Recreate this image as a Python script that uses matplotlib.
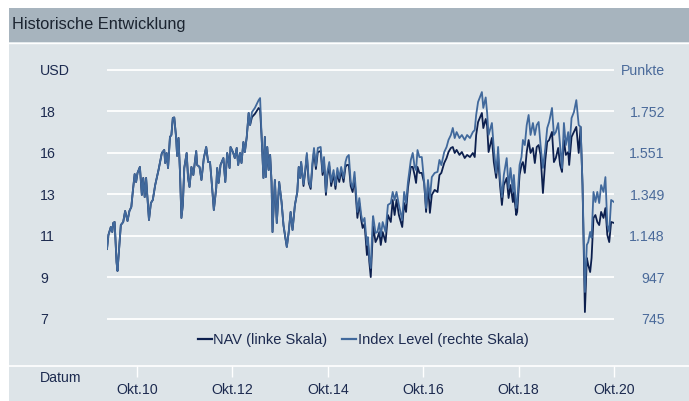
import matplotlib
matplotlib.use('Agg')
import matplotlib.pyplot as plt
from matplotlib.patches import Rectangle
from matplotlib.lines import Line2D

plt.rcParams['font.family'] = ['Liberation Sans', 'DejaVu Sans']

# decimal years of the weekly-ish samples
years = [
    2010.12, 2010.15, 2010.20, 2010.23, 2010.25, 2010.28, 2010.32, 2010.34, 2010.38, 2010.41,
    2010.46, 2010.50, 2010.55, 2010.59, 2010.63, 2010.66, 2010.70, 2010.73, 2010.76, 2010.81,
    2010.85, 2010.88, 2010.91, 2010.94, 2011.00, 2011.04, 2011.08, 2011.13, 2011.20, 2011.27,
    2011.32, 2011.34, 2011.37, 2011.40, 2011.44, 2011.47, 2011.50, 2011.53, 2011.57, 2011.59,
    2011.62, 2011.65, 2011.68, 2011.71, 2011.74, 2011.79, 2011.82, 2011.85, 2011.89, 2011.93,
    2011.99, 2012.01, 2012.06, 2012.10, 2012.15, 2012.20, 2012.24, 2012.28, 2012.32, 2012.36,
    2012.41, 2012.43, 2012.46, 2012.50, 2012.56, 2012.60, 2012.64, 2012.69, 2012.71, 2012.76,
    2012.80, 2012.84, 2012.87, 2012.91, 2012.94, 2012.98, 2013.01, 2013.05, 2013.09, 2013.12,
    2013.16, 2013.22, 2013.30, 2013.33, 2013.36, 2013.40, 2013.43, 2013.45, 2013.48, 2013.51,
    2013.54, 2013.57, 2013.59, 2013.64, 2013.68, 2013.73, 2013.78, 2013.82, 2013.86, 2013.89,
    2013.93, 2013.97, 2014.01, 2014.06, 2014.11, 2014.14, 2014.17, 2014.19, 2014.24, 2014.28,
    2014.31, 2014.35, 2014.39, 2014.43, 2014.46, 2014.50, 2014.54, 2014.60, 2014.64, 2014.67,
    2014.71, 2014.74, 2014.78, 2014.82, 2014.87, 2014.91, 2014.95, 2014.99, 2015.03, 2015.08,
    2015.12, 2015.15, 2015.19, 2015.23, 2015.27, 2015.31, 2015.37, 2015.41, 2015.45, 2015.48,
    2015.52, 2015.57, 2015.59, 2015.62, 2015.65, 2015.69, 2015.70, 2015.75, 2015.79, 2015.83,
    2015.86, 2015.90, 2015.96, 2016.01, 2016.07, 2016.11, 2016.15, 2016.19, 2016.24, 2016.31,
    2016.35, 2016.39, 2016.43, 2016.49, 2016.53, 2016.57, 2016.60, 2016.63, 2016.67, 2016.72,
    2016.77, 2016.81, 2016.85, 2016.89, 2016.93, 2016.99, 2017.05, 2017.09, 2017.13, 2017.19,
    2017.24, 2017.28, 2017.33, 2017.37, 2017.41, 2017.45, 2017.51, 2017.56, 2017.62, 2017.67,
    2017.73, 2017.79, 2017.83, 2017.86, 2017.90, 2017.98, 2018.01, 2018.06, 2018.09, 2018.12,
    2018.19, 2018.23, 2018.28, 2018.32, 2018.36, 2018.40, 2018.44, 2018.50, 2018.54, 2018.58,
    2018.63, 2018.65, 2018.70, 2018.72, 2018.77, 2018.81, 2018.84, 2018.88, 2018.92, 2018.96,
    2019.00, 2019.05, 2019.09, 2019.13, 2019.17, 2019.21, 2019.26, 2019.31, 2019.35, 2019.39,
    2019.45, 2019.49, 2019.53, 2019.58, 2019.62, 2019.66, 2019.70, 2019.74, 2019.79, 2019.81,
    2019.86, 2019.91, 2019.96, 2020.01, 2020.05, 2020.09, 2020.14, 2020.18, 2020.21, 2020.25,
    2020.28, 2020.32, 2020.36, 2020.40, 2020.44, 2020.48, 2020.53, 2020.57, 2020.61, 2020.65,
    2020.69, 2020.75,
]

# NAV in USD (left scale)
nav = [
    10.62, 11.35, 11.76, 11.50, 11.97, 12.02, 9.95, 9.48, 10.83, 11.86,
    12.02, 12.59, 12.07, 12.59, 12.80, 13.57, 14.50, 14.09, 14.56, 14.87,
    13.42, 14.30, 13.31, 14.30, 12.12, 13.00, 13.16, 13.93, 14.71, 15.59,
    15.75, 15.07, 15.59, 14.81, 16.42, 16.52, 17.40, 17.43, 16.37, 15.44,
    16.37, 14.61, 12.23, 12.90, 14.81, 15.59, 14.30, 13.83, 14.87, 14.45,
    15.69, 14.97, 14.87, 14.19, 15.33, 15.90, 15.12, 15.12, 13.93, 12.64,
    13.78, 14.81, 14.04, 14.97, 15.33, 14.09, 15.59, 14.81, 15.90, 15.64,
    15.33, 15.85, 14.97, 15.59, 15.07, 16.16, 15.64, 16.42, 17.66, 17.04,
    17.45, 17.61, 17.92, 17.82, 16.52, 14.30, 16.42, 14.35, 15.90, 14.71,
    15.49, 14.09, 11.50, 14.19, 11.97, 14.09, 13.05, 11.86, 11.19, 10.73,
    11.50, 12.54, 11.61, 12.90, 13.57, 14.87, 14.30, 15.12, 13.88, 14.71,
    15.49, 14.04, 13.73, 15.02, 15.64, 14.76, 15.64, 15.69, 14.45, 15.18,
    13.42, 14.40, 14.92, 13.88, 14.50, 13.73, 14.56, 14.09, 14.66, 14.09,
    14.87, 14.97, 14.97, 13.88, 13.57, 14.30, 12.23, 13.00, 12.12, 11.71,
    11.92, 10.31, 11.09, 9.95, 9.17, 11.35, 11.81, 10.98, 11.19, 11.50,
    10.83, 11.50, 10.98, 12.38, 12.02, 13.16, 12.38, 13.16, 12.38, 11.76,
    13.00, 12.54, 13.78, 14.87, 14.87, 14.45, 14.04, 14.87, 14.56, 14.56,
    14.04, 12.54, 13.93, 12.49, 13.42, 13.68, 13.57, 14.45, 14.56, 15.07,
    15.33, 15.64, 15.85, 15.90, 15.59, 15.75, 15.49, 15.64, 15.33, 15.49,
    15.38, 15.59, 15.38, 16.52, 17.19, 17.66, 16.88, 17.35, 16.99, 15.64,
    16.37, 15.12, 14.30, 15.38, 13.93, 12.90, 13.93, 14.30, 13.26, 13.93,
    13.05, 13.57, 12.38, 12.54, 14.45, 14.97, 15.12, 14.56, 15.64, 16.26,
    15.59, 15.85, 15.07, 15.90, 16.00, 15.49, 13.52, 15.23, 16.16, 16.26,
    16.68, 15.12, 15.33, 15.85, 14.97, 14.61, 16.26, 15.49, 15.64, 14.97,
    16.42, 16.68, 16.94, 15.59, 16.94, 13.93, 7.36, 10.16, 9.79, 9.43,
    10.16, 12.23, 12.38, 12.02, 11.86, 12.54, 12.23, 12.74, 11.35, 10.98,
    12.02, 11.97,
]

# Index level in points (right scale)
index_level = [
    1084, 1152, 1191, 1167, 1210, 1215, 1021, 978, 1104, 1201,
    1215, 1268, 1220, 1268, 1288, 1361, 1448, 1409, 1453, 1482,
    1346, 1428, 1336, 1428, 1225, 1307, 1322, 1394, 1467, 1550,
    1564, 1501, 1550, 1477, 1627, 1637, 1719, 1722, 1622, 1535,
    1622, 1458, 1235, 1298, 1477, 1550, 1428, 1385, 1482, 1443,
    1559, 1491, 1482, 1419, 1525, 1579, 1506, 1506, 1394, 1273,
    1380, 1477, 1404, 1491, 1525, 1409, 1550, 1477, 1579, 1554,
    1525, 1574, 1491, 1550, 1501, 1603, 1554, 1627, 1744, 1685,
    1748, 1768, 1806, 1816, 1637, 1428, 1627, 1433, 1579, 1467,
    1540, 1409, 1167, 1419, 1210, 1409, 1312, 1201, 1138, 1094,
    1167, 1264, 1176, 1298, 1361, 1482, 1428, 1506, 1399, 1477,
    1550, 1414, 1385, 1511, 1574, 1487, 1574, 1579, 1458, 1530,
    1361, 1458, 1506, 1409, 1467, 1394, 1477, 1428, 1482, 1428,
    1506, 1530, 1540, 1409, 1380, 1458, 1264, 1331, 1249, 1215,
    1235, 1104, 1142, 1041, 992, 1215, 1244, 1162, 1167, 1210,
    1147, 1215, 1167, 1298, 1307, 1361, 1322, 1361, 1298, 1225,
    1361, 1307, 1409, 1516, 1550, 1482, 1467, 1564, 1530, 1530,
    1409, 1283, 1419, 1331, 1433, 1453, 1458, 1516, 1491, 1554,
    1579, 1613, 1637, 1671, 1622, 1651, 1622, 1637, 1613, 1637,
    1622, 1651, 1661, 1734, 1797, 1845, 1768, 1819, 1744, 1637,
    1695, 1574, 1453, 1579, 1428, 1336, 1443, 1525, 1380, 1477,
    1361, 1443, 1283, 1307, 1491, 1530, 1613, 1588, 1685, 1734,
    1637, 1695, 1637, 1685, 1700, 1588, 1477, 1574, 1671, 1700,
    1768, 1637, 1651, 1695, 1588, 1477, 1695, 1588, 1651, 1554,
    1719, 1748, 1806, 1685, 1676, 1394, 876, 1104, 1118, 1167,
    1138, 1361, 1312, 1361, 1307, 1394, 1361, 1433, 1201, 1167,
    1322, 1312,
]

left_ticks = [7, 9.15, 11.3, 13.45, 15.6, 17.75, 19.9]
left_labels = ['7', '9', '11', '13', '16', '18', 'USD']
right_ticks = [745, 946.4, 1147.8, 1349.2, 1550.6, 1752, 1953.4]
right_labels = ['745', '947', '1.148', '1.349', '1.551', '1.752', 'Punkte']
x_ticks = [2010.75, 2012.75, 2014.75, 2016.75, 2018.75, 2020.75]
x_labels = ['Okt.10', 'Okt.12', 'Okt.14', 'Okt.16', 'Okt.18', 'Okt.20']

W, H = 689, 401
NAVY = '#0c1f4e'
STEEL = '#41699c'
TXT = '#1c2a4f'


def fx(x):
    return x / W


def fy(y):
    return 1 - y / H


fig = plt.figure(figsize=(W / 100, H / 100), dpi=100)
fig.patch.set_facecolor('white')

# panel background, header band and separator (behind the axes)
fig.patches.append(Rectangle((fx(9), 0), 1 - fx(9), fy(8), transform=fig.transFigure,
                             facecolor='#dde4e8', edgecolor='none', zorder=-10))
fig.patches.append(Rectangle((fx(9), fy(42)), 1 - fx(9), fy(8) - fy(42), transform=fig.transFigure,
                             facecolor='#a7b4be', edgecolor='none', zorder=-9))
fig.lines.append(Line2D([fx(9), 1], [fy(42.5), fy(42.5)], transform=fig.transFigure,
                        color='white', lw=1, zorder=-8))
fig.lines.append(Line2D([fx(9), 1], [fy(366), fy(366)], transform=fig.transFigure,
                        color='white', lw=1.2, zorder=-8))
fig.text(fx(12), fy(24), 'Historische Entwicklung', fontsize=11.8, color='#1b2430',
         ha='left', va='center')
fig.text(fx(61), fy(378), 'Datum', fontsize=10.2, color=TXT, ha='center', va='center')

ax = fig.add_axes([fx(107), fy(366), fx(614) - fx(107), fy(60) - fy(366)])
ax.set_facecolor('none')
k = 2.15 / 41.55
ylo, yhi = 7 + (319 - 366) * k, 7 + (319 - 60) * k
ax.set_ylim(ylo, yhi)
ax.set_xlim(2010.12, 2020.75)
for s in ax.spines.values():
    s.set_visible(False)
ax.set_yticks(left_ticks, left_labels)
ax.yaxis.grid(True, color='white', lw=1.3)
ax.set_axisbelow(True)
ax.tick_params(axis='y', length=0, pad=(107 - 40) * 0.72, labelsize=10.2, labelcolor=TXT)
for t in ax.get_yticklabels():
    t.set_horizontalalignment('left')
ax.set_xticks(x_ticks, x_labels)
ax.tick_params(axis='x', direction='out', length=8, width=1, color='white',
               pad=4.5, labelsize=10.2, labelcolor=TXT)
ln_nav, = ax.plot(years, nav, color=NAVY, lw=1.3, label='NAV (linke Skala)')

ax2 = ax.twinx()
scale = 201.4 / 2.15
ax2.set_ylim(745 + (ylo - 7) * scale, 745 + (yhi - 7) * scale)
for s in ax2.spines.values():
    s.set_visible(False)
ax2.set_yticks(right_ticks, right_labels)
ax2.tick_params(axis='y', length=0, pad=(665 - 614) * 0.72, labelsize=10.2, labelcolor='#4a6a9a')
for t in ax2.get_yticklabels():
    t.set_horizontalalignment('right')
ln_idx, = ax2.plot(years, index_level, color=STEEL, lw=1.3, label='Index Level (rechte Skala)')

leg = fig.legend(handles=[ln_nav, ln_idx], loc='center', bbox_to_anchor=(fx(363), fy(340)),
                 ncol=2, frameon=False, fontsize=10.5, handlelength=0.95, handletextpad=0.12,
                 columnspacing=1.0, labelcolor=TXT)
for h in leg.legend_handles:
    h.set_linewidth(1.6)

fig.savefig('out.png', dpi=100, facecolor=fig.get_facecolor())
